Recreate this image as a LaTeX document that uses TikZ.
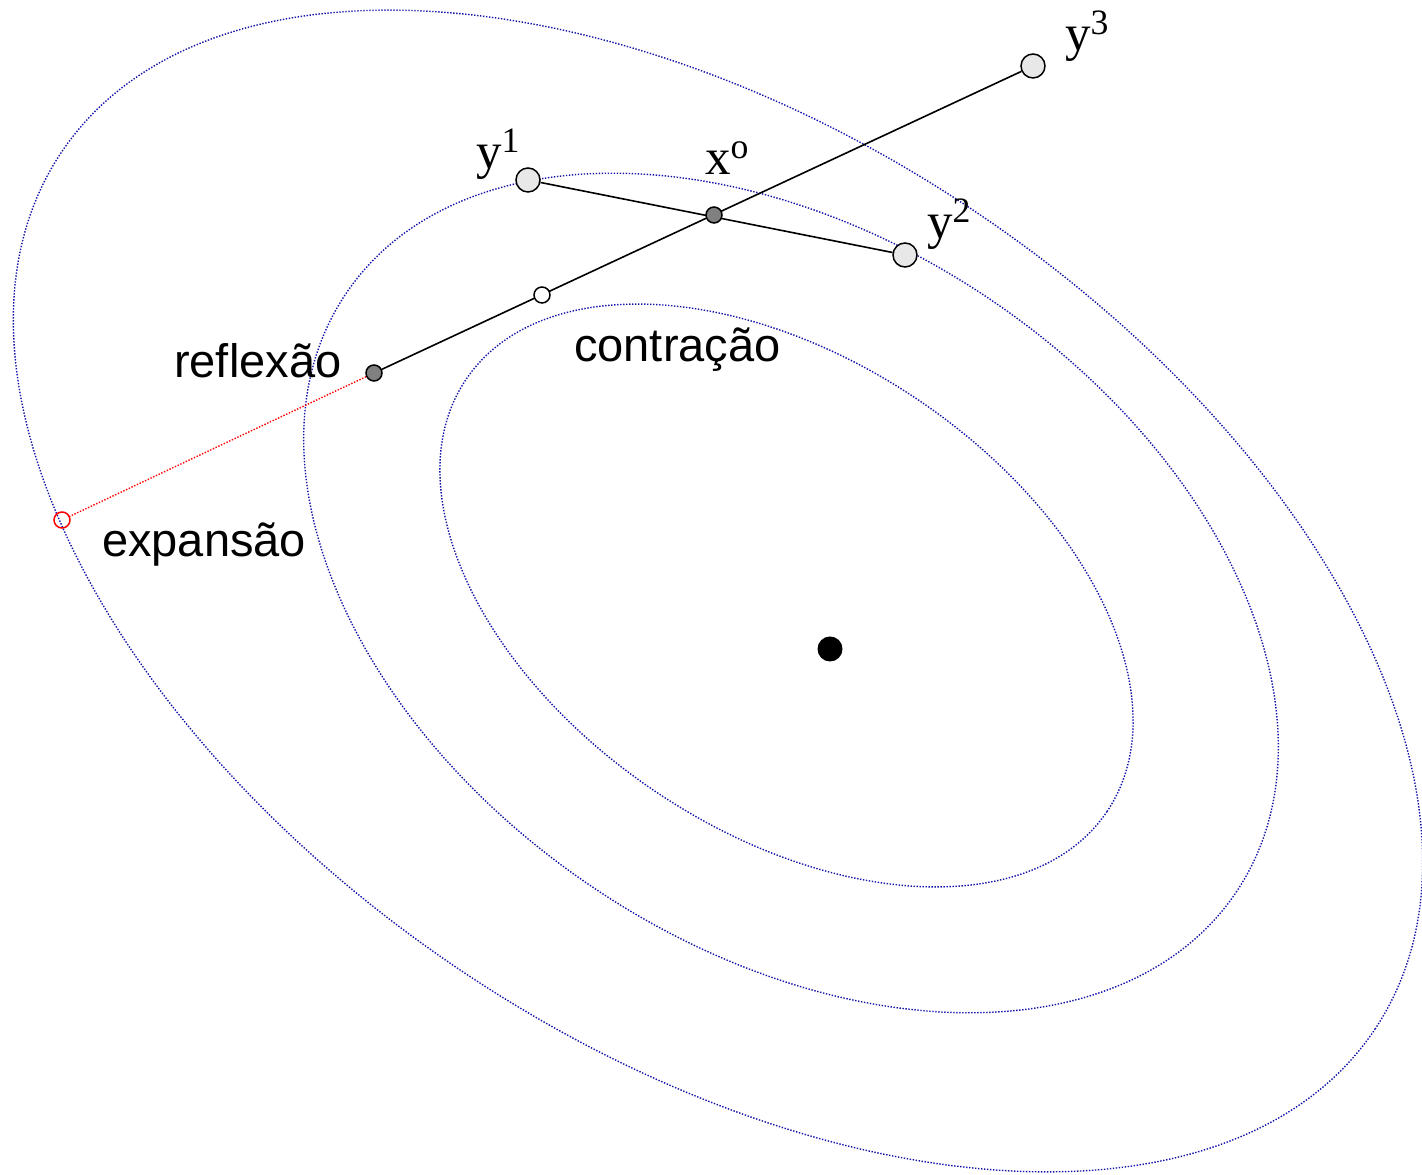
\documentclass[tikz,border=0pt]{standalone}
\usepackage{fontspec}
\setmainfont{Liberation Serif}
\setsansfont{Liberation Sans}
\usetikzlibrary{backgrounds}
\definecolor{levelblue}{RGB}{20,20,170}
\definecolor{ptlight}{RGB}{232,232,232}
\definecolor{ptdark}{RGB}{128,128,128}
\newcommand{\supr}[1]{\raisebox{7pt}{\textsuperscript{#1}}}
\tikzset{
  level/.style={draw=levelblue, line width=1.4pt, dash pattern=on 1.4pt off 1.6pt},
  vertex/.style={circle, draw=black, line width=1.5pt, fill=ptlight, minimum size=24pt, inner sep=0pt},
  smalldot/.style={circle, draw=black, line width=1.5pt, fill=ptdark, minimum size=16pt, inner sep=0pt},
  opendot/.style={circle, draw=black, line width=1.5pt, fill=white, minimum size=16pt, inner sep=0pt},
  expdot/.style={circle, draw=red, line width=1.5pt, minimum size=16pt, inner sep=0pt},
  optdot/.style={circle, fill=black, minimum size=25pt, inner sep=0pt},
  simplex/.style={draw=black, line width=1.6pt},
  reddots/.style={draw=red, line width=1.4pt, dash pattern=on 1.4pt off 1.6pt},
  serlab/.style={anchor=base west, inner sep=0pt, font=\fontsize{51}{55}\selectfont},
  sanslab/.style={anchor=base west, inner sep=0pt, font=\sffamily\fontsize{47}{51}\selectfont}
}
\begin{document}
\begin{tikzpicture}[x=1pt,y=1pt]
\useasboundingbox (0,0) rectangle (1422,1175);
% points
\node[vertex] (y1) at (528,995) {};
\node[smalldot] (xo) at (714,960) {};
\node[vertex] (y2) at (905,920) {};
\node[vertex] (y3) at (1033,1109) {};
\node[opendot] (con) at (542,880) {};
\node[smalldot] (ref) at (374,802) {};
\node[expdot] (exp) at (62,655) {};
\node[optdot] (opt) at (830,526) {};
\begin{scope}[on background layer]
  \draw[level] (786.5,579.5) ellipse [x radius=386.5pt, y radius=235.8pt, rotate=-34.0];
  \draw[level] (791,582) ellipse [x radius=536.4pt, y radius=354.8pt, rotate=-33.9];
  \draw[level] (718,584) ellipse [x radius=789.7pt, y radius=458.4pt, rotate=-33.7];
  \draw[simplex] (y1) -- (y2);
  \draw[simplex] (y3) -- (ref);
  \draw[reddots] (ref) -- (exp);
\end{scope}
% labels
\node[serlab] (ly1) at (476,1006) {y\supr{1}};
\node[serlab] (lxo) at (705,1000) {x\supr{o}};
\node[serlab] (ly2) at (927,936) {y\supr{2}};
\node[serlab] (ly3) at (1065,1124) {y\supr{3}};
\node[sanslab] (lref) at (174,797) {reflexão};
\node[sanslab] (lcon) at (574,813) {contração};
\node[sanslab] (lexp) at (102,618) {expansão};
\end{tikzpicture}
\end{document}
